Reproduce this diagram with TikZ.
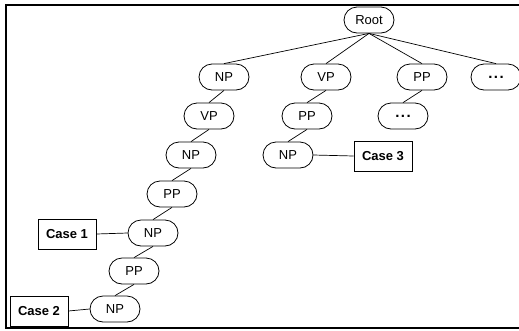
\documentclass[tikz,border=0pt]{standalone}
\usepackage{fontspec}
\setmainfont{Liberation Sans}
\newcommand{\etcdots}{\raisebox{-2pt}{\fontsize{15}{15}\selectfont\bfseries .\kern1.5pt.\kern1.5pt.}}
\begin{document}
\begin{tikzpicture}[x=1pt,y=-1pt,
  phrase/.style={draw, line width=0.8pt, rectangle, rounded corners=13pt,
    minimum width=50pt, minimum height=26pt, inner sep=2pt,
    font=\fontsize{13}{15}\selectfont},
  casebox/.style={draw, line width=0.8pt, rectangle, minimum width=58pt,
    minimum height=30pt, inner sep=2pt, font=\fontsize{13}{15}\selectfont\bfseries},
  link/.style={line width=0.7pt}]
\useasboundingbox (0,0) rectangle (519,330);
\clip (0,0) rectangle (519,330);
% frame
\draw[line width=2pt] (6,5) rectangle (530,328);

% tree nodes
\node[phrase] (root) at (369,20) {Root};

\node[phrase] (np1) at (224,77) {NP};
\node[phrase] (vp1) at (326,77) {VP};
\node[phrase] (pp1) at (422,77) {PP};
\node[phrase] (etc1) at (496,77) {\etcdots};

\node[phrase] (vp2) at (209,116) {VP};
\node[phrase] (pp2) at (307,116) {PP};
\node[phrase] (etc2) at (403,116) {\etcdots};

\node[phrase] (np3) at (191,155) {NP};
\node[phrase] (np4) at (288,155) {NP};

\node[phrase] (pp5) at (172,194) {PP};
\node[phrase] (np6) at (153,233) {NP};
\node[phrase] (pp7) at (134,271) {PP};
\node[phrase] (np8) at (115,309) {NP};

% case labels
\node[casebox] (c3) at (383,156) {Case 3};
\node[casebox] (c1) at (67,234) {Case 1};
\node[casebox] (c2) at (39,311) {Case 2};

% edges: parent bottom to child top
\foreach \p/\c in {root/np1, root/vp1, root/pp1, root/etc1,
                   np1/vp2, vp2/np3, np3/pp5, pp5/np6, np6/pp7, pp7/np8,
                   vp1/pp2, pp2/np4, pp1/etc2}
  \draw[link] (\p.south) -- (\c.north);

\draw[link] (np4.east) -- (c3.west);
\draw[link] (c1.east) -- (np6.west);
\draw[link] (c2.east) -- (np8.west);
\end{tikzpicture}
\end{document}
